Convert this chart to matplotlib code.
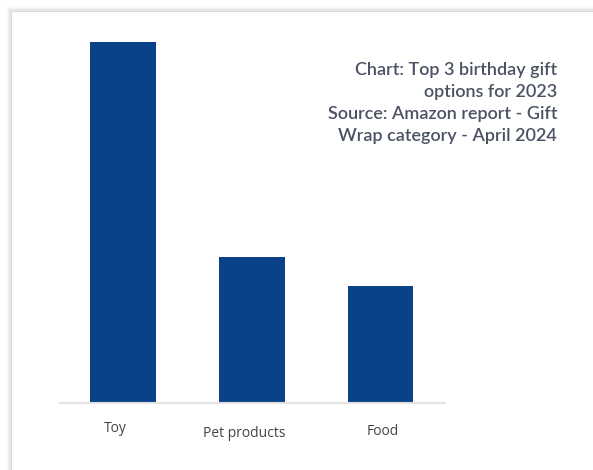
import matplotlib.pyplot as plt
from matplotlib.patches import Rectangle
from matplotlib.transforms import ScaledTranslation

categories = ['Toy', 'Pet products', 'Food']
values = [37, 15, 12]
# small label offsets seen in the reference (px)
label_dx = [-8, -8, 2.5]
label_dy = [0, -5, -3]

W, H = 593, 470
fig = plt.figure(figsize=(W / 100, H / 100), dpi=100)
fig.patch.set_facecolor('white')

# card with soft shadow on the upper-left
for i, a in enumerate([0.025, 0.03, 0.04, 0.05]):
    d = 6 - i * 1.5
    fig.patches.append(Rectangle(((12 - d) / W, 0), 1, (H - 12 + d) / H,
                                 transform=fig.transFigure, facecolor='#000000',
                                 alpha=a, edgecolor='none', zorder=-3))
fig.patches.append(Rectangle((12 / W, 0), 1, (H - 12) / H, transform=fig.transFigure,
                             facecolor='white', edgecolor='none', zorder=-2))

ax = fig.add_axes([60 / W, 67 / H, 385 / W, 361 / H])
ax.set_facecolor('none')
x = range(len(categories))
ax.bar(x, values, width=0.51, color='#0a4189', zorder=2)
ax.set_xlim(-0.49, 2.5)
ax.set_ylim(0, 37)
for s in ['top', 'right', 'left']:
    ax.spines[s].set_visible(False)
ax.spines['bottom'].set_color('#e3e3e3')
ax.spines['bottom'].set_linewidth(1.5)
ax.set_yticks([])
ax.set_xticks(list(x))
ax.set_xticklabels(categories, fontsize=10, color='#444444', family='Open Sans')
ax.tick_params(axis='x', length=0, pad=13)
for lbl, dx, dy in zip(ax.get_xticklabels(), label_dx, label_dy):
    lbl.set_transform(lbl.get_transform() + ScaledTranslation(dx / 100, dy / 100, fig.dpi_scale_trans))

fig.text(557 / W, 1 - 62 / H,
         'Chart: Top 3 birthday gift\noptions for 2023\nSource: Amazon report - Gift\nWrap category - April 2024',
         ha='right', va='top', fontsize=13, color='#4a5263', family='Lato',
         weight='semibold', linespacing=1.45)

fig.savefig('out.png', dpi=100)
